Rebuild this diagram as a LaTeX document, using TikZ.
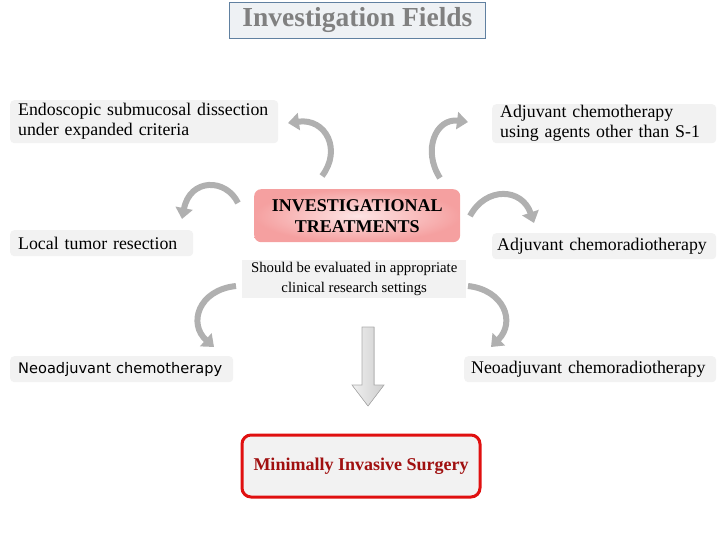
\documentclass[tikz,border=0pt]{standalone}
\usepackage{fontspec}
\setmainfont{Liberation Serif}
\newfontfamily\versans{DejaVu Sans}
\usetikzlibrary{arrows.meta,shadings,calc}
\definecolor{boxgray}{RGB}{242,242,242}
\definecolor{titlefill}{RGB}{238,241,244}
\definecolor{titleline}{RGB}{96,128,160}
\definecolor{titletext}{RGB}{128,128,128}
\definecolor{pinkin}{RGB}{253,228,228}
\definecolor{pinkout}{RGB}{245,160,160}
\definecolor{misred}{RGB}{224,16,16}
\definecolor{mistext}{RGB}{160,16,16}
\definecolor{arrowgray}{RGB}{176,176,176}
\begin{document}
\begin{tikzpicture}[x=1pt,y=-1pt,
  lbox/.style={fill=boxgray, rounded corners=4pt, anchor=north west, inner xsep=8pt, inner ysep=0pt, align=left, font=\fontsize{17.8}{22}\selectfont},
  carrow/.style={line width=6pt, draw=arrowgray, -{Triangle[length=11pt,width=17pt]}}]
\useasboundingbox (0,0) rectangle (720,540);

% title
\node[anchor=north west, fill=titlefill, draw=titleline, line width=0.8pt, minimum width=256pt, minimum height=36pt, inner sep=0pt, font=\bfseries\fontsize{27.5}{30}\selectfont, text=titletext] (title) at (229,2) {\raisebox{-2pt}{Investigation Fields}};

% side boxes
\node[lbox, minimum width=268pt, minimum height=43pt, text width=252pt] (esd) at (10,100) {\raisebox{-2pt}{Endoscopic submucosal dissection}\\under expanded criteria};
\node[lbox, minimum width=224pt, minimum height=39pt, text width=208pt] (adjchemo) at (492,104) {\raisebox{-2pt}{Adjuvant chemotherapy}\\using agents other than S-1};
\node[lbox, minimum width=183pt, minimum height=26pt, text width=167pt] (local) at (10,230) {Local tumor resection};
\node[lbox, inner xsep=5pt, minimum width=224pt, minimum height=26pt, text width=214pt] (adjcrt) at (492,233) {Adjuvant chemoradiotherapy};
\node[lbox, minimum width=223pt, minimum height=26pt, text width=207pt, font=\versans\fontsize{14.6}{16}\selectfont] (neochemo) at (10,356) {Neoadjuvant chemotherapy};
\node[lbox, inner xsep=7pt, minimum width=252pt, minimum height=26pt, text width=238pt] (neocrt) at (464,356) {Neoadjuvant chemoradiotherapy};

% center
\node[anchor=north west, rounded corners=7pt, inner color=pinkin, outer color=pinkout, minimum width=206pt, minimum height=53pt, inner sep=0pt, align=center, font=\bfseries\fontsize{18}{21}\selectfont] (center) at (254,189) {INVESTIGATIONAL\\TREATMENTS};

\node[anchor=north west, fill=boxgray, minimum width=224pt, minimum height=38pt, inner sep=0pt, align=center, font=\fontsize{14.8}{20}\selectfont] (note) at (242,260) {Should be evaluated in appropriate\\clinical research settings};

% bottom
\node[anchor=north west, fill=boxgray, draw=misred, line width=3pt, rounded corners=9pt, minimum width=238pt, minimum height=62pt, inner sep=0pt, font=\bfseries\fontsize{18}{20}\selectfont, text=mistext] (mis) at (240.5,433.5) {Minimally Invasive Surgery};

% down arrow
\coordinate (dtop) at (368,327);
\coordinate (dtip) at (368,406);
\filldraw[draw=gray!65, line width=0.6pt, left color=gray!12, right color=gray!38]
  ($(dtop)+(-6,0)$) -- ($(dtop)+(6,0)$) -- (374,385) -- (384,385) -- (dtip) -- (352,385) -- (362,385) -- cycle;

% curved arrows
\coordinate (t1) at (322,176); \coordinate (h1) at (288,123);
\coordinate (t2) at (440,178); \coordinate (h2) at (468,122);
\coordinate (t3) at (238,203); \coordinate (h3) at (182,219);
\coordinate (t4) at (470,216); \coordinate (h4) at (534,223);
\coordinate (t5) at (236,286); \coordinate (h5) at (214,347);
\coordinate (t6) at (468,286); \coordinate (h6) at (491,347);
\draw[carrow] (t1) .. controls (342,150) and (326,118) .. (h1);
\draw[carrow] (t2) .. controls (422,150) and (436,118) .. (h2);
\draw[carrow] (t3) .. controls (226,178) and (190,178) .. (h3);
\draw[carrow] (t4) .. controls (486,186) and (522,188) .. (h4);
\draw[carrow] (t5) .. controls (198,290) and (188,324) .. (h5);
\draw[carrow] (t6) .. controls (504,290) and (516,322) .. (h6);
\end{tikzpicture}
\end{document}
